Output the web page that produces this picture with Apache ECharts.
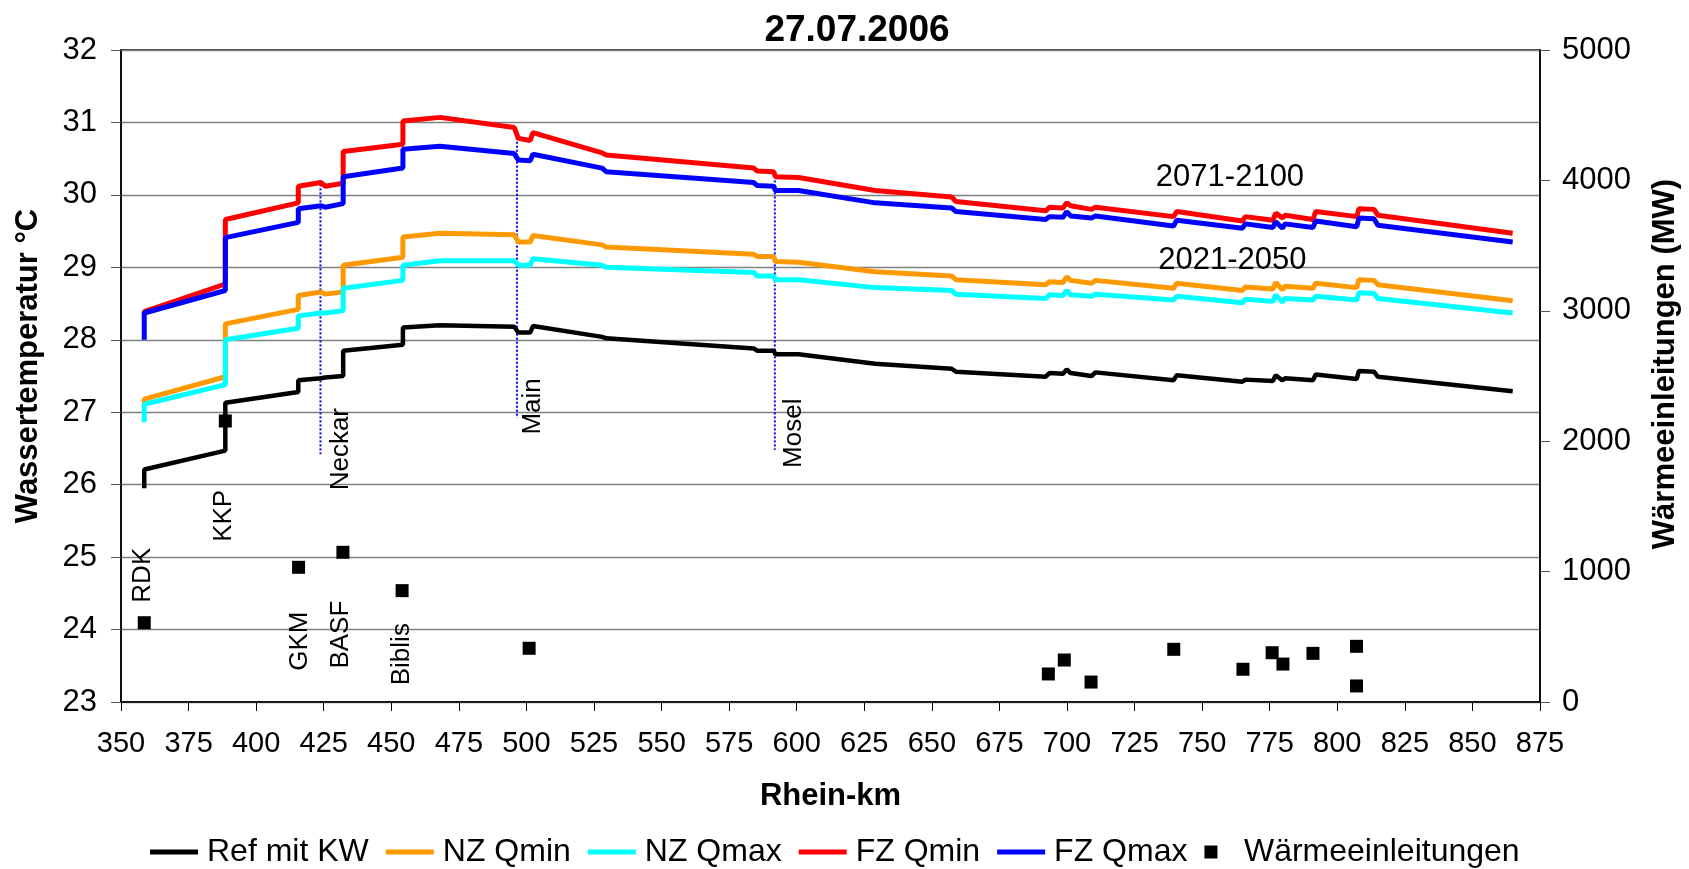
<!DOCTYPE html>
<html>
<head>
<meta charset="utf-8">
<title>27.07.2006</title>
<script src="https://cdn.jsdelivr.net/npm/echarts@6/dist/echarts.min.js"></script>
<style>
    html, body { margin: 0; padding: 0; background: #fff; }
    #grafica { width: 1689px; height: 869px; }
</style>
</head>
<body>
<div id="grafica"></div>
<script>
// Rhein-km Stützstellen (doppelte Werte = Sprung an Einleitung / Zufluss)
const kmPts = [358.6, 358.6, 388.6, 388.6, 415.6, 415.6, 424.0, 425.5, 432.2, 432.2,
    454.3, 454.3, 468.0, 495.5, 497.0, 501.4, 502.4, 528.0, 529.5, 584.1,
    585.3, 591.5, 592.1, 600.7, 629.0, 657.3, 658.9, 692.1, 693.5, 698.5,
    699.9, 701.3, 709.1, 710.5, 739.4, 740.6, 764.9, 766.0, 776.2, 777.2,
    779.7, 780.7, 791.0, 792.0, 807.2, 808.0, 813.6, 815.0, 864.9];

// Wassertemperatur °C
const refMitKW = [25.95, 26.21, 26.47, 27.13, 27.28, 27.44, 27.47, 27.48, 27.50, 27.85,
    27.93, 28.17, 28.20, 28.18, 28.10, 28.10, 28.19, 28.04, 28.02, 27.88,
    27.85, 27.85, 27.80, 27.80, 27.67, 27.60, 27.56, 27.49, 27.54, 27.53,
    27.59, 27.54, 27.50, 27.55, 27.44, 27.51, 27.42, 27.45, 27.43, 27.51,
    27.44, 27.47, 27.44, 27.52, 27.46, 27.57, 27.56, 27.49, 27.29];
const nzQmin = [27.12, 27.18, 27.49, 28.22, 28.42, 28.61, 28.66, 28.63, 28.66, 29.03,
    29.14, 29.42, 29.47, 29.45, 29.35, 29.35, 29.44, 29.31, 29.28, 29.18,
    29.15, 29.15, 29.08, 29.07, 28.94, 28.88, 28.83, 28.76, 28.80, 28.79,
    28.87, 28.82, 28.78, 28.82, 28.71, 28.78, 28.68, 28.73, 28.70, 28.79,
    28.69, 28.74, 28.71, 28.78, 28.72, 28.83, 28.82, 28.76, 28.54];
const nzQmax = [26.86, 27.11, 27.38, 28.00, 28.16, 28.33, 28.37, 28.37, 28.40, 28.71,
    28.82, 29.03, 29.09, 29.09, 29.03, 29.03, 29.12, 29.03, 29.00, 28.93,
    28.88, 28.88, 28.83, 28.83, 28.72, 28.68, 28.63, 28.57, 28.62, 28.61,
    28.68, 28.62, 28.60, 28.63, 28.55, 28.60, 28.51, 28.56, 28.53, 28.62,
    28.52, 28.57, 28.55, 28.60, 28.55, 28.65, 28.64, 28.57, 28.37];
const fzQmin = [28.35, 28.39, 28.77, 29.66, 29.89, 30.12, 30.17, 30.12, 30.16, 30.60,
    30.70, 31.02, 31.07, 30.93, 30.78, 30.75, 30.86, 30.58, 30.55, 30.37,
    30.33, 30.32, 30.25, 30.24, 30.06, 29.97, 29.91, 29.78, 29.83, 29.82,
    29.89, 29.85, 29.80, 29.83, 29.70, 29.77, 29.64, 29.70, 29.65, 29.75,
    29.68, 29.72, 29.66, 29.77, 29.70, 29.81, 29.80, 29.72, 29.47];
const fzQmax = [28.00, 28.37, 28.68, 29.41, 29.62, 29.81, 29.85, 29.83, 29.88, 30.25,
    30.37, 30.63, 30.67, 30.57, 30.48, 30.47, 30.56, 30.37, 30.32, 30.17,
    30.13, 30.12, 30.06, 30.06, 29.89, 29.82, 29.77, 29.66, 29.70, 29.69,
    29.77, 29.71, 29.68, 29.71, 29.57, 29.65, 29.54, 29.60, 29.55, 29.63,
    29.54, 29.60, 29.55, 29.64, 29.56, 29.68, 29.67, 29.58, 29.35];

// Wärmeeinleitungen (MW)
const waermeKm = [358.6, 388.6, 415.7, 432.1, 454.0, 501.0, 693.1, 699.0, 708.9, 739.5,
    765.1, 775.9, 779.9, 791.0, 807.1, 807.1];
const waermeMW = [608, 2155, 1033, 1148, 854, 412, 215, 322, 153, 404,
    251, 378, 291, 373, 427, 123];

// Zuflüsse (gepunktete Linien)
const zuflussKm = [423.8, 496.5, 591.9];
const zuflussOben = [30.2, 30.9, 30.2];
const zuflussUnten = [26.42, 26.92, 26.48];

// Beschriftungen im Diagramm
const beschriftung = ['RDK', 'KKP', 'GKM', 'BASF', 'Biblis', 'Neckar', 'Main', 'Mosel'];
const beschriftungKm = [358.0, 388.0, 416.1, 431.5, 453.9, 431.2, 502.2, 598.8];
const beschriftungTemp = [24.75, 25.57, 23.84, 23.93, 23.66, 26.49, 27.08, 26.71];
const zeitraum = ['2071-2100', '2021-2050'];
const zeitraumKm = [760.3, 761.2];
const zeitraumTemp = [30.24, 29.09];

const reihen = ['Ref mit KW', 'NZ Qmin', 'NZ Qmax', 'FZ Qmin', 'FZ Qmax'];
const farben = ['#000000', '#ff9900', '#00ffff', '#ff0000', '#0000ff'];
const werte = [refMitKW, nzQmin, nzQmax, fzQmin, fzQmax];

const fuente = "'Liberation Sans', Arial, sans-serif";

function pares(vals) {
    return kmPts.map((k, i) => [k, vals[i]]);
}

let series = [];

// Zuflüsse zuerst, damit sie unter den Kurven liegen
zuflussKm.forEach((k, i) => {
    series.push({
        name: 'zufluss' + i,
        type: 'line',
        silent: true,
        symbol: 'none',
        data: [[k, zuflussOben[i]], [k, zuflussUnten[i]]],
        lineStyle: { color: '#0000ff', width: 2, type: [2, 2] },
        z: 1
    });
});

reihen.forEach((nombre, i) => {
    series.push({
        name: nombre,
        type: 'line',
        symbol: 'none',
        data: pares(werte[i]),
        lineStyle: { color: farben[i], width: i == 0 ? 4.5 : 5 },
        itemStyle: { color: farben[i] },
        z: 2 + i
    });
});

series.push({
    name: 'Wärmeeinleitungen',
    type: 'scatter',
    yAxisIndex: 1,
    symbol: 'rect',
    symbolSize: 13,
    itemStyle: { color: '#000000', opacity: 1 },
    data: waermeKm.map((k, i) => [k, waermeMW[i]]),
    z: 10
});

// Texte als Datenpunkte ohne Symbol
let textos = beschriftung.map((t, i) => ({
    name: t,
    value: [beschriftungKm[i], beschriftungTemp[i]],
    label: { rotate: 90, fontSize: 26 }
}));
zeitraum.forEach((t, i) => {
    textos.push({
        name: t,
        value: [zeitraumKm[i], zeitraumTemp[i]],
        label: { rotate: 0, fontSize: 31 }
    });
});
series.push({
    name: 'texte',
    type: 'scatter',
    silent: true,
    symbolSize: 0,
    itemStyle: { opacity: 1 },
    data: textos,
    label: {
        show: true,
        position: 'inside',
        formatter: '{b}',
        color: '#000',
        opacity: 1,
        fontFamily: fuente
    },
    z: 11
});

// Legendensymbole: Balken für Linien, Quadrat für Einleitungen
let legendData = reihen.map((nombre) => ({ name: nombre, icon: 'path://M0 0H48V5H0Z' }));
legendData.push({ name: 'Wärmeeinleitungen', icon: 'path://M0 0H10V10H0Z' });

let chartDom = document.getElementById('grafica');
let myChart = echarts.init(chartDom);
let option = {
    animation: false,
    backgroundColor: '#ffffff',
    textStyle: { fontFamily: fuente },
    title: {
        text: '27.07.2006',
        left: 852,
        top: 7,
        textAlign: 'center',
        textStyle: { fontSize: 37, fontWeight: 'bold', color: '#000', fontFamily: fuente }
    },
    legend: {
        data: legendData,
        left: 150,
        top: 836,
        padding: 0,
        itemWidth: 48,
        itemHeight: 13,
        itemGap: 17,
        symbolKeepAspect: true,
        textStyle: { fontSize: 32, color: '#000', fontFamily: fuente, padding: [0, 0, 0, 4] }
    },
    grid: {
        left: 121,
        right: 146,
        top: 50,
        bottom: 167,
        show: true,
        borderColor: '#000',
        borderWidth: 1.5
    },
    xAxis: {
        type: 'value',
        min: 350,
        max: 875,
        interval: 25,
        name: 'Rhein-km',
        nameLocation: 'middle',
        nameGap: 79,
        nameTextStyle: { fontSize: 31, fontWeight: 'bold', color: '#000' },
        axisLine: { lineStyle: { color: '#000', width: 1.5 } },
        axisTick: { length: 9, lineStyle: { color: '#000' } },
        axisLabel: { fontSize: 29, color: '#000', margin: 27 },
        splitLine: { show: false }
    },
    yAxis: [
        {
            type: 'value',
            min: 23,
            max: 32,
            interval: 1,
            name: 'Wassertemperatur °C',
            nameLocation: 'middle',
            nameRotate: 90,
            nameGap: 77,
            nameTextStyle: { fontSize: 31, fontWeight: 'bold', color: '#000', padding: [0, 0, 0, 20] },
            axisLine: { show: true, lineStyle: { color: '#000', width: 1.5 } },
            axisTick: { show: true, length: 10, lineStyle: { color: '#555' } },
            axisLabel: { fontSize: 31, color: '#000', margin: 24 },
            splitLine: { show: true, lineStyle: { color: '#808080', width: 1.3 } }
        },
        {
            type: 'value',
            min: 0,
            max: 5000,
            interval: 1000,
            position: 'right',
            name: 'Wärmeeinleitungen (MW)',
            nameLocation: 'middle',
            nameRotate: 90,
            nameGap: 110,
            nameTextStyle: { fontSize: 31, fontWeight: 'bold', color: '#000', padding: [0, 0, 0, 24] },
            axisLine: { show: true, lineStyle: { color: '#000', width: 1.5 } },
            axisTick: { show: true, length: 10, lineStyle: { color: '#555' } },
            axisLabel: { fontSize: 31, color: '#000', margin: 22, formatter: (v) => String(v) },
            splitLine: { show: false }
        }
    ],
    series: series
};
option && myChart.setOption(option);
</script>
</body>
</html>
